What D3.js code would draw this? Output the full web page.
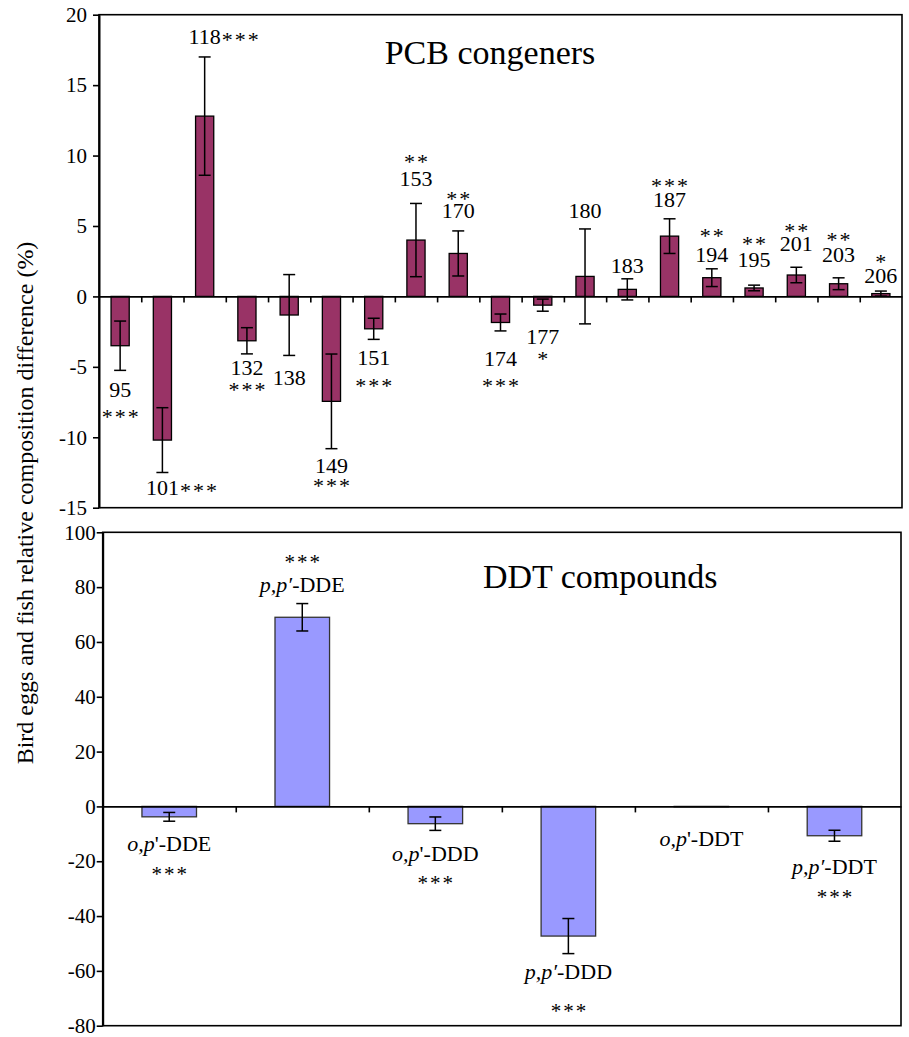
<!DOCTYPE html>
<html>
<head>
<meta charset="utf-8">
<script src="https://cdn.jsdelivr.net/npm/d3@7"></script>
<style>
  html, body { margin: 0; padding: 0; background: #fff; }
  svg { display: block; }
  svg text { font-family: "Liberation Serif", "Times New Roman", "DejaVu Serif", serif !important; fill: #000; }
</style>
</head>
<body>
<svg id="chart" width="909" height="1037"></svg>
<script>
// ---------- PCB congeners (top panel) ----------
const pcbCategories = ["95","101","118","132","138","149","151","153","170","174","177","180","183","187","194","195","201","203","206"];
const pcbValues = [-3.5, -10.2, 12.8, -3.15, -1.32, -7.45, -2.3, 4.0, 3.05, -1.85, -0.62, 1.42, 0.5, 4.28, 1.33, 0.6, 1.52, 0.9, 0.2];
const pcbErrors = [1.75, 2.3, 4.2, 0.93, 2.87, 3.36, 0.75, 2.6, 1.6, 0.6, 0.43, 3.37, 0.75, 1.23, 0.63, 0.2, 0.55, 0.42, 0.18];
const pcbStars = ["***","***","***","***","","***","***","**","**","***","*","","","***","**","**","**","**","*"];
// label anchor values (in data units)
const pcbLabelAt = [-6.62, -13.58, 18.45, -5.01, -5.77, -12.02, -4.33, 8.35, 6.08, -4.37, -2.84, 6.08, 2.18, 6.86, 2.96, 2.60, 3.79, 2.96, 1.47];
const pcbStarAt = [-8.33, null, null, -6.39, null, -13.22, -6.15, 9.75, 7.15, -6.15, -4.19, null, null, 8.1, 4.5, 3.95, 4.9, 4.27, 2.65];
const pcbTicks = [20, 15, 10, 5, 0, -5, -10, -15];

// ---------- DDT compounds (bottom panel) ----------
const ddtCategories = ["o,p'-DDE", "p,p\u2032-DDE", "o,p'-DDD", "p,p\u2032-DDD", "o,p'-DDT", "p,p\u2032-DDT"];
const ddtValues = [-3.8, 69.0, -6.3, -47.3, -0.15, -10.7];
const ddtErrors = [1.6, 5.0, 2.45, 6.4, 0, 2.0];
const ddtStars = ["***", "***", "***", "***", "", "***"];
const ddtLabelAt = [-13.3, 81.1, -17.0, -60.1, -11.7, -21.8];
const ddtStarAt = [-23.6, 90.1, -26.9, -73.7, null, -32.0];
const ddtTicks = [100, 80, 60, 40, 20, 0, -20, -40, -60, -80];

const svg = d3.select("#chart");
const SERIF = '"Liberation Serif", "Times New Roman", serif';

function panel(opts) {
  const g = svg.append("g");
  const n = opts.categories.length;
  const x = d3.scaleBand().domain(opts.categories)
    .range([opts.x0, opts.x1]).paddingInner(opts.pad).paddingOuter(opts.pad / 2);
  const y = d3.scaleLinear().domain(opts.domain).range([opts.y1, opts.y0]);
  const idx = d3.scaleLinear().domain([0, n]).range([opts.x0, opts.x1]);

  g.append("rect")
    .attr("x", opts.x0).attr("y", opts.y0)
    .attr("width", opts.x1 - opts.x0).attr("height", opts.y1 - opts.y0)
    .attr("fill", "none").attr("stroke", "#000").attr("stroke-width", 1.6);

  g.selectAll("rect.bar").data(opts.categories).join("rect")
    .attr("class", "bar")
    .attr("x", d => x(d))
    .attr("width", x.bandwidth())
    .attr("y", (d, i) => y(Math.max(0, opts.values[i])))
    .attr("height", (d, i) => Math.abs(y(opts.values[i]) - y(0)))
    .attr("fill", opts.color)
    .attr("stroke", opts.stroke)
    .attr("stroke-width", 1.3);

  const cap = 6;
  opts.categories.forEach((c, i) => {
    const e = opts.errors[i];
    if (!e) return;
    const cx = x(c) + x.bandwidth() / 2;
    const v = opts.values[i];
    const eg = g.append("g").attr("stroke", "#000").attr("stroke-width", 1.5);
    eg.append("line").attr("x1", cx).attr("x2", cx).attr("y1", y(v - e)).attr("y2", y(v + e));
    eg.append("line").attr("x1", cx - cap).attr("x2", cx + cap).attr("y1", y(v - e)).attr("y2", y(v - e));
    eg.append("line").attr("x1", cx - cap).attr("x2", cx + cap).attr("y1", y(v + e)).attr("y2", y(v + e));
  });

  const xa = g.append("g").attr("transform", `translate(0,${y(0)})`)
    .call(d3.axisBottom(idx).tickValues(d3.range(1, n)).tickSize(6).tickSizeOuter(0).tickFormat(""));
  xa.select(".domain").attr("stroke", "#000").attr("stroke-width", 1.6);
  xa.selectAll(".tick line").attr("stroke", "#000").attr("stroke-width", 1.6);

  const ya = g.append("g").attr("transform", `translate(${opts.x0},0)`)
    .call(d3.axisLeft(y).tickValues(opts.ticks).tickSize(6).tickSizeOuter(0)
      .tickPadding(opts.tickPad).tickFormat(d => String(d)));
  ya.attr("font-family", null).attr("font-size", null);
  ya.select(".domain").attr("stroke", "#000").attr("stroke-width", 2);
  ya.selectAll(".tick line").attr("stroke", "#000").attr("stroke-width", 1.6);
  ya.selectAll(".tick text").style("font-family", SERIF)
    .style("font-size", "21px").attr("fill", "#000");

  g.append("text").attr("x", opts.titleX).attr("y", opts.titleY)
    .style("font-family", SERIF)
    .attr("text-anchor", opts.titleAnchor).style("font-size", "34px").text(opts.title);

  return { g, x, y };
}

// ---- top ----
const pcbPanel = panel({
  categories: pcbCategories, values: pcbValues, errors: pcbErrors,
  x0: 99, x1: 902, y0: 14.7, y1: 507.7, domain: [-15, 20], pad: 0.57,
  color: "#993366", stroke: "#000", ticks: pcbTicks, tickPad: 6,
  title: "PCB congeners", titleX: 490, titleY: 64, titleAnchor: "middle"
});

pcbCategories.forEach((c, i) => {
  const P = pcbPanel;
  const cx = P.x(c) + P.x.bandwidth() / 2;
  const t = P.g.append("text").attr("x", cx).attr("y", P.y(pcbLabelAt[i]))
    .style("font-family", SERIF)
    .attr("dy", "0.35em").attr("text-anchor", "middle").style("font-size", "22px").text(c);
  const s = pcbStars[i];
  if (!s) return;
  if (pcbStarAt[i] === null) {
    const w = t.node().getComputedTextLength();
    P.g.append("text").attr("x", cx + w / 2 + 1).attr("y", P.y(pcbLabelAt[i]))
      .style("font-family", SERIF)
      .attr("dy", "0.47em").attr("text-anchor", "start").style("font-size", "22px")
      .attr("letter-spacing", 2).text(s);
  } else {
    P.g.append("text").attr("x", cx + 1).attr("y", P.y(pcbStarAt[i]))
      .style("font-family", SERIF)
      .attr("dy", "0.47em").attr("text-anchor", "middle").style("font-size", "22px")
      .attr("letter-spacing", 2).text(s);
  }
});

// ---- bottom ----
const ddtPanel = panel({
  categories: ddtCategories, values: ddtValues, errors: ddtErrors,
  x0: 102.7, x1: 901, y0: 532.3, y1: 1025.7, domain: [-80, 100], pad: 0.59,
  color: "#9999FF", stroke: "#333", ticks: ddtTicks, tickPad: 1,
  title: "DDT compounds", titleX: 483, titleY: 588, titleAnchor: "start"
});

ddtCategories.forEach((c, i) => {
  const P = ddtPanel;
  const cx = P.x(c) + P.x.bandwidth() / 2;
  const m = c.match(/^([op],p)(['\u2032])-(.*)$/);
  const t = P.g.append("text").attr("x", cx).attr("y", P.y(ddtLabelAt[i]))
    .style("font-family", SERIF)
    .attr("dy", "0.35em").attr("text-anchor", "middle").style("font-size", "22px");
  if (m[2] === "'") {
    t.append("tspan").attr("font-style", "italic").text(m[1]);
    t.append("tspan").text("'-" + m[3]);
  } else {
    t.append("tspan").attr("font-style", "italic").text(m[1] + m[2]);
    t.append("tspan").text("-" + m[3]);
  }
  if (ddtStars[i]) {
    P.g.append("text").attr("x", cx + 1).attr("y", P.y(ddtStarAt[i]))
      .style("font-family", SERIF)
      .attr("dy", "0.47em").attr("text-anchor", "middle").style("font-size", "21px")
      .attr("letter-spacing", 2).attr("fill", "#222").text(ddtStars[i]);
  }
});

svg.append("text")
  .attr("transform", "translate(33,503) rotate(-90)")
  .style("font-family", SERIF)
  .attr("text-anchor", "middle").style("font-size", "24px")
  .text("Bird eggs and fish relative composition difference (%)");
</script>
</body>
</html>
